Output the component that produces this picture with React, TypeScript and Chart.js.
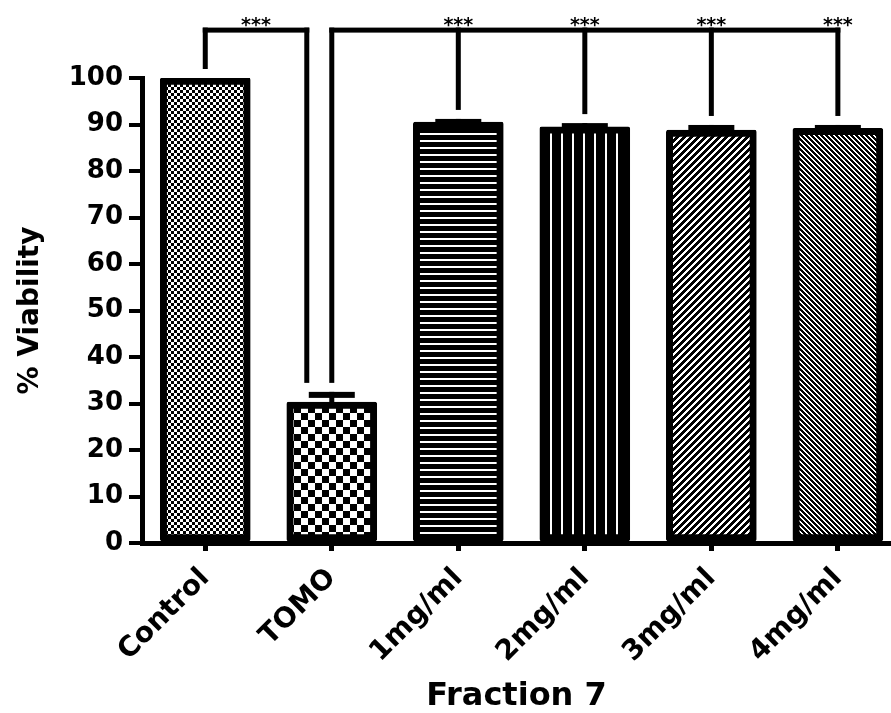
import React, { useEffect, useRef } from 'react';
import { Chart, registerables } from 'chart.js';

Chart.register(...registerables);

// ---- data ----
const categories = ['Control', 'TOMO', '1mg/ml', '2mg/ml', '3mg/ml', '4mg/ml'];
const viability = [100, 30.3, 90.5, 89.5, 88.8, 89.2];
const sem = [0, 2.2, 0.7, 0.8, 1.1, 0.7];
const yMin = 0;
const yMax = 100;
const yStep = 10;
const xTitle = 'Fraction 7';
const yTitle = '% Viability';
// significance comparisons (category indices)
const sigFrom = [0, 1];
const sigTo = [[1], [2, 3, 4, 5]];
const sigLabel = ['***', '***'];
const bracketLevel = 110.3; // in % viability units

// ---- style ----
const FONT = '"DejaVu Sans", "Liberation Sans", Arial, sans-serif';
const patternKinds = ['fineChecker', 'checker', 'hlines', 'vlines', 'diagUp', 'diagDown'];

function makePattern(ctx: CanvasRenderingContext2D, kind: string): CanvasPattern | string {
  let w = 6, h = 6;
  let isBlack: (x: number, y: number) => boolean = () => true;
  switch (kind) {
    case 'fineChecker':
      w = 6; h = 6;
      isBlack = (x, y) => ((Math.floor(x / 3) + Math.floor(y / 3)) % 2) === 0;
      break;
    case 'checker':
      w = 14; h = 14;
      isBlack = (x, y) => ((Math.floor(x / 7) + Math.floor(y / 7)) % 2) === 0;
      break;
    case 'hlines':
      w = 4; h = 7;
      isBlack = (_x, y) => y >= 2;
      break;
    case 'vlines':
      w = 11; h = 4;
      isBlack = (x) => x >= 2;
      break;
    case 'diagUp':
      w = 7; h = 7;
      isBlack = (x, y) => ((x + y) % 7) < 4;
      break;
    case 'diagDown':
      w = 5; h = 5;
      isBlack = (x, y) => (((x - y) % 5) + 5) % 5 < 3;
      break;
  }
  const c = document.createElement('canvas');
  c.width = w; c.height = h;
  const p = c.getContext('2d')!;
  const img = p.createImageData(w, h);
  for (let y = 0; y < h; y++) {
    for (let x = 0; x < w; x++) {
      const v = isBlack(x, y) ? 0 : 255;
      const k = (y * w + x) * 4;
      img.data[k] = v; img.data[k + 1] = v; img.data[k + 2] = v; img.data[k + 3] = 255;
    }
  }
  p.putImageData(img, 0, 0);
  return ctx.createPattern(c, 'repeat') || '#000';
}

const annotationPlugin = {
  id: 'errAndSig',
  afterDatasetsDraw(chart: any) {
    const { ctx, scales } = chart;
    const x = scales.x, y = scales.y;
    ctx.save();
    ctx.fillStyle = '#000';
    // error bars (mean + SEM)
    viability.forEach((v, i) => {
      if (!sem[i]) return;
      const cx = x.getPixelForValue(i);
      const top = y.getPixelForValue(v + sem[i]);
      const barTop = y.getPixelForValue(v);
      ctx.fillRect(cx - 2.5, top, 5, barTop - top + 4);
      ctx.fillRect(cx - 23, top, 46, 6);
    });
    // significance brackets
    const lineY = y.getPixelForValue(bracketLevel);
    const legBottom = (i: number) => y.getPixelForValue(viability[i] + sem[i]) - 9;
    ctx.font = `bold 19px ${FONT}`;
    ctx.textAlign = 'center';
    ctx.textBaseline = 'alphabetic';
    sigFrom.forEach((from, g) => {
      const targets = sigTo[g];
      const xFrom = x.getPixelForValue(from);
      const reused = (t: number) => sigFrom.indexOf(t) > g;
      const xs = targets.map((t) => x.getPixelForValue(t) + (reused(t) ? -25 : 0));
      const xEnd = xs[xs.length - 1];
      ctx.fillRect(xFrom - 2.5, lineY - 2.5, xEnd - xFrom + 5, 5);
      ctx.fillRect(xFrom - 2.5, lineY - 2.5, 5, legBottom(from) - lineY + 2.5);
      targets.forEach((t, k) => {
        ctx.fillRect(xs[k] - 2.5, lineY - 2.5, 5, legBottom(t) - lineY + 2.5);
      });
      if (targets.length === 1) {
        ctx.fillText(sigLabel[g], (xFrom + xs[0]) / 2, lineY + 1);
      } else {
        targets.forEach((t) => ctx.fillText(sigLabel[g], x.getPixelForValue(t), lineY + 1));
      }
    });
    ctx.restore();
  },
};

export default function App() {
  const ref = useRef<HTMLCanvasElement | null>(null);
  useEffect(() => {
    const canvas = ref.current!;
    const ctx = canvas.getContext('2d')!;
    const patterns = patternKinds.map((k) => makePattern(ctx, k));
    const chart = new Chart(canvas, {
      type: 'bar',
      data: {
        datasets: [
          {
            data: viability.map((v, i) => ({ x: i, y: v })),
            backgroundColor: patterns as any,
            borderColor: '#000',
            borderWidth: 7,
            borderSkipped: false,
            borderRadius: 2,
            barThickness: 90,
          },
        ],
      },
      options: {
        responsive: false,
        animation: false,
        devicePixelRatio: 1,
        layout: { padding: { top: 78, left: 0, right: 0, bottom: 0 } },
        plugins: { legend: { display: false }, tooltip: { enabled: false } },
        scales: {
          x: {
            type: 'linear',
            min: -0.5,
            max: 5.42,
            offset: false,
            afterBuildTicks: (s: any) => {
              s.ticks = categories.map((_, i) => ({ value: i }));
            },
            afterFit: (s: any) => {
              s.height = 170;
            },
            ticks: {
              autoSkip: false,
              minRotation: 45,
              maxRotation: 45,
              padding: 11,
              color: '#000',
              font: { family: FONT, weight: 'bold', size: 28 },
              callback: (v: any) => categories[v] ?? '',
            },
            grid: { drawOnChartArea: false, drawTicks: true, tickLength: 8, lineWidth: 5, color: '#000', offset: false },
            border: { display: true, width: 5, color: '#000' },
            title: {
              display: true,
              text: xTitle,
              color: '#000',
              font: { family: FONT, weight: 'bold', size: 32, lineHeight: 1 },
              padding: 0,
            },
          },
          y: {
            min: yMin,
            max: yMax,
            afterFit: (s: any) => {
              s.width = 142;
            },
            ticks: {
              stepSize: yStep,
              padding: 6,
              color: '#000',
              font: { family: FONT, weight: 'bold', size: 26 },
            },
            grid: { drawOnChartArea: false, drawTicks: true, tickLength: 13, lineWidth: 4, color: '#000' },
            border: { display: true, width: 5, color: '#000' },
            title: {
              display: true,
              text: yTitle,
              color: '#000',
              font: { family: FONT, weight: 'bold', size: 28, lineHeight: 1.2 },
              padding: { top: 14, bottom: 0 },
            },
          },
        },
      } as any,
      plugins: [annotationPlugin],
    });
    return () => chart.destroy();
  }, []);
  return (
    <div style={{ position: 'absolute', left: 0, top: 0, width: 891, height: 713, background: '#fff' }}>
      <canvas ref={ref} width={891} height={713} style={{ width: 891, height: 713, display: 'block' }} />
    </div>
  );
}
